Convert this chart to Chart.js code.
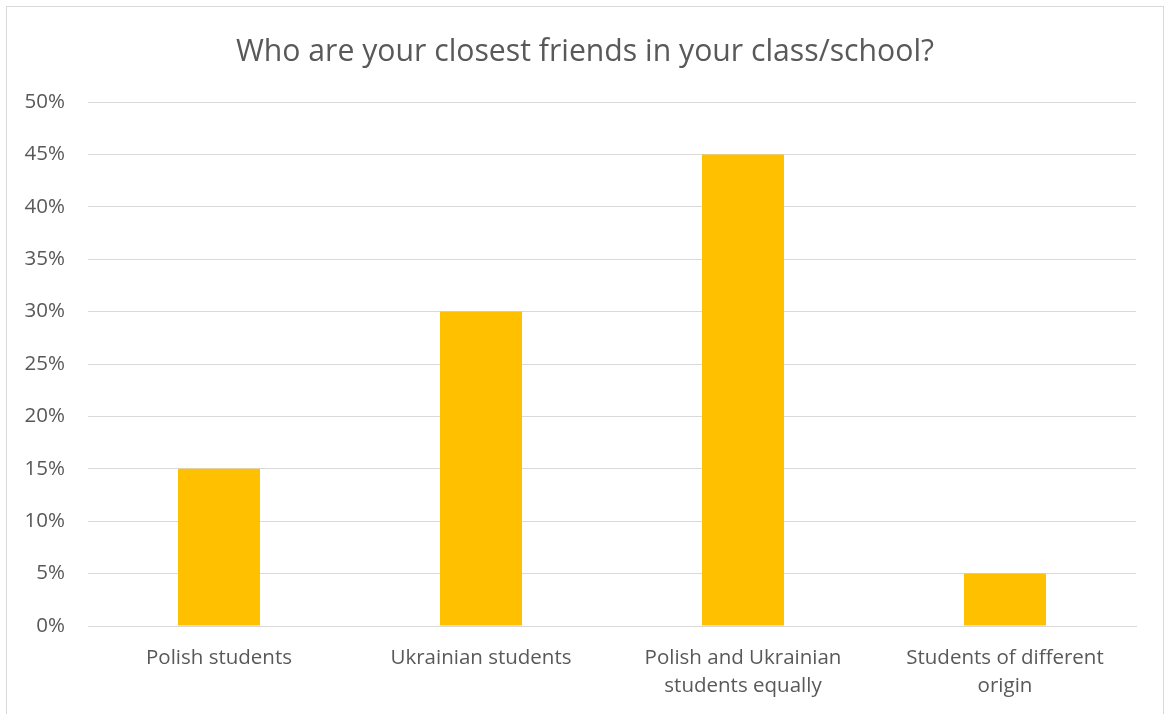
<!doctype html>
<html>

<head>
	<title>Closest friends</title>
	<script src="https://cdn.jsdelivr.net/npm/chart.js@4/dist/chart.umd.min.js"></script>
	<style>
		body {
			margin: 0;
			background: #fff;
		}

		#container {
			position: relative;
			width: 1165px;
			height: 714px;
			overflow: hidden;
		}

		#frame {
			position: absolute;
			left: 6px;
			top: 6px;
			width: 1156px;
			height: 760px;
			border: 1.5px solid #d9d9d9;
		}

		#canvas {
			position: absolute;
			left: 0;
			top: 0;
		}
	</style>
</head>

<body>
<div id="container">
	<div id="frame"></div>
	<canvas id="canvas" width="1165" height="714"></canvas>
</div>
<script>

	var categories = [
		"Polish students",
		["Ukrainian students"],
		["Polish and Ukrainian", "students equally"],
		["Students of different", "origin"]
	];
	var shares = [15, 30, 45, 5];
	var yTicks = [0, 5, 10, 15, 20, 25, 30, 35, 40, 45, 50];

	var textColor = "#595959";
	var gridColor = "#d9d9d9";
	var fontFamily = "'Open Sans', 'Noto Sans', sans-serif";

	// centre the title on the whole frame rather than on the padded layout box
	var centreTitle = {
		id: 'centreTitle',
		afterLayout: function (chart) {
			if (chart.titleBlock) {
				chart.titleBlock.left = 34;
				chart.titleBlock.right = 1136;
			}
		}
	};

	function createBarChart() {

		var ctx = document.getElementById("canvas").getContext("2d");
		window.myBar = new Chart(ctx, {
			type: 'bar',
			data: {
				labels: categories,
				datasets: [{
					label: 'Share',
					backgroundColor: "#ffc000",
					borderWidth: 0,
					categoryPercentage: 1,
					barPercentage: 0.313,
					data: shares
				}]
			},
			plugins: [centreTitle],
			options: {
				responsive: false,
				animation: false,
				layout: {
					padding: { left: 0, right: 29, top: 0, bottom: 0 }
				},
				plugins: {
					legend: { display: false },
					tooltip: { enabled: false },
					title: {
						display: true,
						text: 'Who are your closest friends in your class/school?',
						color: textColor,
						font: { family: fontFamily, size: 30.2, weight: 'normal', lineHeight: 1.2 },
						padding: { top: 34, bottom: 31.8 }
					}
				},
				scales: {
					x: {
						grid: { display: false, drawTicks: false },
						border: { display: true, color: gridColor, width: 1 },
						ticks: {
							color: textColor,
							font: { family: fontFamily, size: 20.5, lineHeight: 1.37 },
							padding: 18,
							maxRotation: 0,
							autoSkip: false
						},
						afterFit: function (scale) {
							scale.height = 88;
						}
					},
					y: {
						min: 0,
						max: 50,
						afterBuildTicks: function (scale) {
							scale.ticks = yTicks.map(function (v) { return { value: v }; });
						},
						grid: { color: gridColor, lineWidth: 1, drawTicks: false },
						border: { display: false },
						ticks: {
							color: textColor,
							font: { family: fontFamily, size: 20.5 },
							padding: 23,
							callback: function (value) { return value + '%'; }
						},
						afterFit: function (scale) {
							scale.width = 88;
						}
					}
				}
			}
		});
	}

	createBarChart();

</script>
</body>

</html>
